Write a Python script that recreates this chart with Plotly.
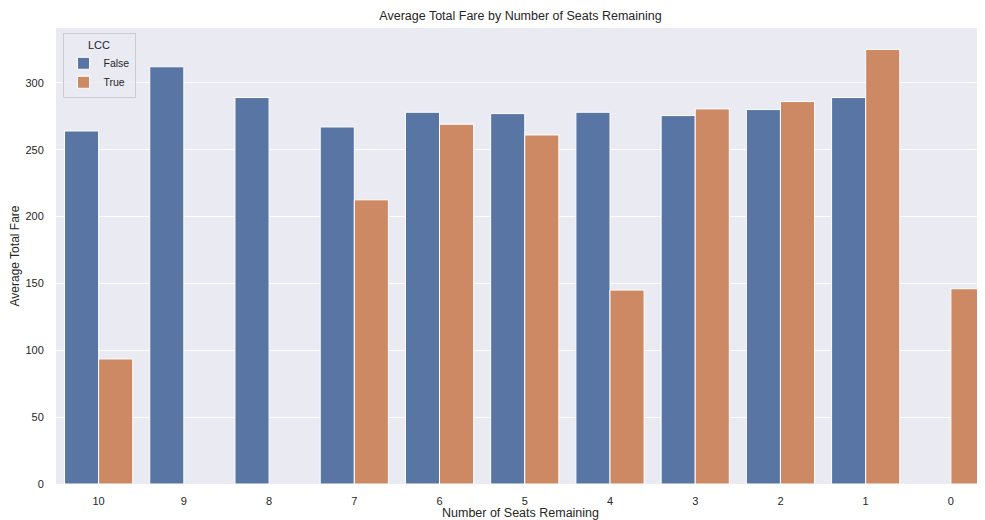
import plotly.graph_objects as go

seats = ["10", "9", "8", "7", "6", "5", "4", "3", "2", "1", "0"]
fare_false = [264, 312, 289, 267, 278, 277, 278, 275.5, 280, 289, None]
fare_true = [93.5, None, None, 212.5, 269, 261, 145, 280.5, 286, 325, 146]

font_family = "Liberation Sans, Arial, DejaVu Sans, sans-serif"
txt = "#262626"

# page body has an 8px margin; figure sized so the plot lands where the reference has it
W, H = 977, 512

fig = go.Figure()
fig.add_trace(go.Bar(x=seats, y=fare_false, name="False", marker=dict(color="#5975a4", line=dict(color="white", width=1))))
fig.add_trace(go.Bar(x=seats, y=fare_true, name="True", marker=dict(color="#cc8963", line=dict(color="white", width=1))))

fig.update_layout(
    width=W, height=H,
    margin=dict(l=48, r=0, t=20, b=36),
    paper_bgcolor="white", plot_bgcolor="#eaeaf2",
    barmode="group", bargap=0.2, bargroupgap=0,
    font=dict(family=font_family, size=11, color=txt),
    title=dict(text="Average Total Fare by Number of Seats Remaining", x=0.5, xanchor="center", xref="paper",
               y=1 - 8/H, yanchor="middle", font=dict(size=12.5, color=txt)),
    legend=dict(title=dict(text="LCC", side="top center", font=dict(size=11, color=txt)), x=0.007, y=0.988,
                xanchor="left", yanchor="top",
                bgcolor="rgba(234,234,242,0.8)", bordercolor="#cccccc", borderwidth=1, font=dict(size=10.5, color=txt),
                itemwidth=30, tracegroupgap=0),
    showlegend=True,
)
fig.update_xaxes(type="category", range=[-0.5, 10.4], showgrid=False, zeroline=False,
                 ticks="outside", ticklen=7, tickcolor="rgba(0,0,0,0)",
                 title=dict(text="Number of Seats Remaining", font=dict(size=12.5, color=txt), standoff=1),
                 tickfont=dict(size=11, color=txt))
fig.update_yaxes(range=[0, 341], dtick=50, showgrid=True, gridcolor="white", gridwidth=1, zeroline=False,
                 ticks="outside", ticklen=9, tickcolor="rgba(0,0,0,0)",
                 title=dict(text="Average Total Fare", font=dict(size=12, color=txt), standoff=6),
                 tickfont=dict(size=11, color=txt))

fig.write_html("out.html")
